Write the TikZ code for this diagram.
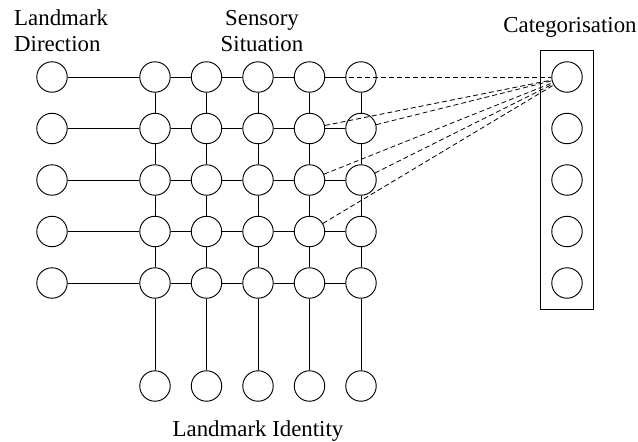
\documentclass[tikz,border=0pt]{standalone}
\usepackage{fontspec}
\setmainfont{Liberation Serif}
\usetikzlibrary{fit}

\begin{document}
\begin{tikzpicture}
    [
        x=0.03cm, y=-0.03cm,
        unit/.style = {draw, shape=circle, minimum size=26, inner sep=0pt, line width=0.8pt},
        link/.style = {line width=0.8pt},
        guess/.style = {line width=0.7pt, dash pattern=on 4.2pt off 2.6pt},
        label/.style = {inner sep=0pt, font=\fontsize{19.5}{21.5}\selectfont},
    ]

    \useasboundingbox (0,0) rectangle (638,441);

    % units
    \foreach \r in {1,...,5} {
        \node[unit] (d\r) at ({52},{77+51.5*(\r-1)}) {};
        \node[unit] (c\r) at ({567},{77+51.5*(\r-1)}) {};
        \foreach \c in {1,...,5}
            \node[unit] (s\r\c) at ({155+51.5*(\c-1)},{77+51.5*(\r-1)}) {};
    }
    \foreach \c in {1,...,5}
        \node[unit] (i\c) at ({155+51.5*(\c-1)},{386}) {};

    \node[draw, line width=0.8pt, inner sep=0.33cm, fit=(c1)(c5)] (catbox) {};

    % labels
    \node[label, anchor=base west, align=left] (dirlabel) at (14,51) {Landmark\\Direction};
    \node[label, anchor=base, align=center] (sitlabel) at (262,51) {Sensory\\Situation};
    \node[label, anchor=base] (catlabel) at (570,32) {Categorisation};
    \node[label, anchor=base] (idlabel) at (258,436) {Landmark Identity};

    % grid
    \foreach \r in {1,...,5} {
        \draw[link] (d\r) -- (s\r1);
        \foreach \c/\n in {1/2,2/3,3/4,4/5}
            \draw[link] (s\r\c) -- (s\r\n);
    }
    \foreach \c in {1,...,5} {
        \foreach \r/\n in {1/2,2/3,3/4,4/5}
            \draw[link] (s\r\c) -- (s\n\c);
        \draw[link] (s5\c) -- (i\c);
    }

    \foreach \u in {14,24,25,34,35,44}
        \draw[guess] (s\u) -- (c1);

\end{tikzpicture}
\end{document}
